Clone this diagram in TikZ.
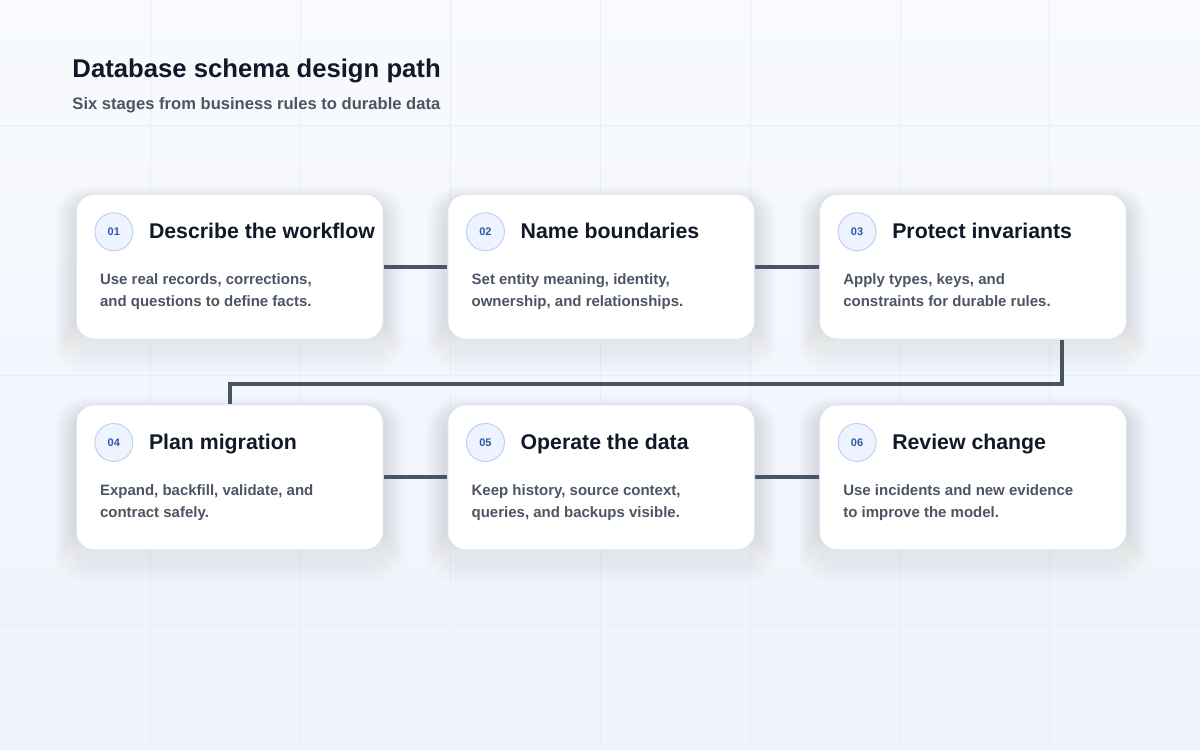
\documentclass[tikz,border=0pt]{standalone}
\usepackage{fontspec}
\setmainfont{Liberation Sans}
\usetikzlibrary{positioning,calc}

\definecolor{bgtop}{HTML}{F8FAFD}
\definecolor{bgbot}{HTML}{EEF3FC}
\definecolor{gridc}{HTML}{E9EEF6}
\definecolor{ink}{HTML}{111827}
\definecolor{muted}{HTML}{4B5563}
\definecolor{wire}{HTML}{475569}
\definecolor{cardline}{HTML}{DCE3EE}
\definecolor{badgefill}{HTML}{EEF4FF}
\definecolor{badgeline}{HTML}{BFD0EE}
\definecolor{badgetext}{HTML}{3157A8}
\definecolor{shade}{HTML}{2A3A66}

\pgfdeclarelayer{bglayer}
\pgfdeclarelayer{shadowlayer}
\pgfdeclarelayer{wirelayer}
\pgfsetlayers{bglayer,shadowlayer,wirelayer,main}

\tikzset{
  card/.style={draw=cardline, line width=0.8pt, fill=white, rounded corners=18pt,
    minimum width=307pt, minimum height=145pt, inner sep=0pt},
  badge/.style={circle, draw=badgeline, line width=1pt, fill=badgefill, minimum size=38pt,
    inner sep=0pt, text=badgetext, font=\fontsize{11}{12}\selectfont\bfseries},
  heading/.style={anchor=base west, inner sep=0pt, text=ink, font=\fontsize{21.3}{24}\selectfont\bfseries},
  body/.style={anchor=north west, inner sep=0pt, text=muted, align=left,
    font=\fontsize{15}{22}\selectfont\bfseries},
  wireline/.style={draw=wire, line width=4pt}
}

\begin{document}
\begin{tikzpicture}[x=1pt,y=1pt]
  % Background
  \begin{pgfonlayer}{bglayer}
    \shade[top color=bgtop, bottom color=bgbot] (0,0) rectangle (1200,750);
    \foreach \gx in {150,300,...,1050}
      \draw[gridc, line width=0.6pt] (\gx,0) -- (\gx,750);
    \foreach \gy in {125,375,625}
      \draw[gridc, line width=0.6pt] (0,\gy) -- (1200,\gy);
  \end{pgfonlayer}
  \useasboundingbox (0,0) rectangle (1200,750);

  % Title
  \node[anchor=base west, inner sep=0pt, text=ink, font=\fontsize{25.7}{28}\selectfont\bfseries]
    (title) at (72,673) {Database schema design path};
  \node[anchor=base west, inner sep=0pt, text=muted, font=\fontsize{16.6}{18}\selectfont\bfseries]
    (subtitle) at (72,641) {Six stages from business rules to durable data};

  % Cards
  \node[card] (card1) at (229.5,483.5) {};
  \node[card, right=64pt of card1] (card2) {};
  \node[card, right=64pt of card2] (card3) {};
  \node[card, below=65pt of card1] (card4) {};
  \node[card, right=64pt of card4] (card5) {};
  \node[card, right=64pt of card5] (card6) {};

  % Soft shadows
  \begin{pgfonlayer}{shadowlayer}
    \foreach \i in {1,...,6}
      \foreach \k in {1,...,14}
        \fill[shade, opacity=0.0055, rounded corners=18pt+\k pt]
          ($(card\i.south west)+(-1.5*\k,-12-1.6*\k)$) rectangle ($(card\i.north east)+(1.5*\k,-8+1.1*\k)$);
  \end{pgfonlayer}

  % Connectors
  \coordinate (drop) at (1062,0);
  \begin{pgfonlayer}{wirelayer}
    \draw[wireline] (card1.east) -- (card2.west);
    \draw[wireline] (card2.east) -- (card3.west);
    \draw[wireline] (card3.south -| drop) -- ($(card3.south -| drop)+(0,-44)$) -| (card4.north);
    \draw[wireline] (card4.east) -- (card5.west);
    \draw[wireline] (card5.east) -- (card6.west);
  \end{pgfonlayer}

  % Card contents
  \foreach \i/\num/\head/\lineA/\lineB in {
      1/01/Describe the workflow/{Use real records, corrections,}/{and questions to define facts.},
      2/02/Name boundaries/{Set entity meaning, identity,}/{ownership, and relationships.},
      3/03/Protect invariants/{Apply types, keys, and}/{constraints for durable rules.},
      4/04/Plan migration/{Expand, backfill, validate, and}/{contract safely.},
      5/05/Operate the data/{Keep history, source context,}/{queries, and backups visible.},
      6/06/Review change/{Use incidents and new evidence}/{to improve the model.}} {
    \node[badge] (badge\i) at ($(card\i.north west)+(38,-38)$) {\num};
    \node[heading] (head\i) at ($(card\i.north west)+(73,-45)$) {\head};
    \node[body] (text\i) at ($(card\i.north west)+(24,-80)$) {\lineA\\\lineB};
  }
\end{tikzpicture}
\end{document}
